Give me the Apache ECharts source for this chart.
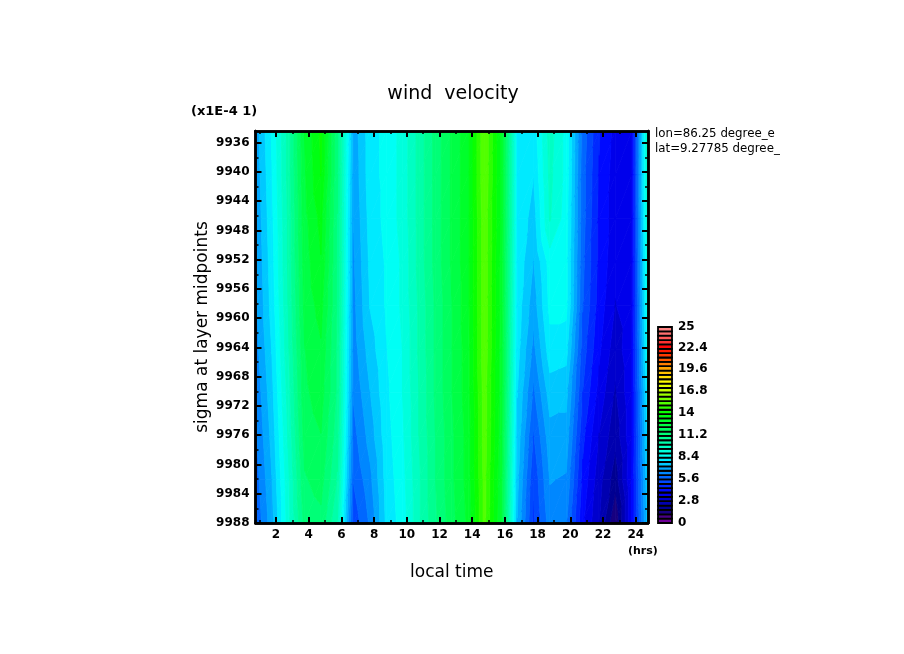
<!DOCTYPE html>
<html>
<head>
<meta charset="utf-8">
<style>html,body{margin:0;padding:0;background:#fff}#main{width:904px;height:654px}</style>
<script src="https://cdn.jsdelivr.net/npm/echarts@6/dist/echarts.min.js"></script>
</head>
<body>
<div id="main"></div>
<script>
// local time of each column
const hours = [0.75,1.75,2.75,3.75,4.75,5.75,6.75,7.75,8.75,9.75,10.75,11.75,12.75,13.75,14.75,15.75,16.75,17.75,18.75,19.75,20.75,21.75,22.75,23.75,24.75];
// sigma level (x1E-4) of each row, top to bottom
const sigmaLevels = [9934.4,9940.4,9946.4,9952.3,9958.3,9964.3,9970.2,9976.2,9982.1,9988];
// wind velocity per level
const wind0 = [6.9,8.4,10.2,12.8,14.0,11.2,6.9,8.1,8.5,9.1,10.2,11.3,12.3,13.2,15.5,13.3,8.3,8.0,9.7,8.7,5.9,4.5,3.7,3.7,9.8];
const wind1 = [6.8,8.3,10.2,12.7,13.9,11.2,6.8,8.1,8.5,9.1,10.2,11.3,12.3,13.2,15.5,13.3,8.3,7.8,9.6,8.7,5.8,4.4,3.6,3.7,9.7];
const wind2 = [6.7,8.2,10.1,12.6,13.5,11.1,6.7,8.0,8.5,9.1,10.2,11.3,12.3,13.2,15.4,13.3,8.3,7.5,9.5,8.6,5.8,4.3,3.6,3.7,9.5];
const wind3 = [6.6,8.1,10.1,12.5,13.3,11.1,6.6,7.9,8.4,9.0,10.2,11.3,12.3,13.2,15.4,13.2,8.2,7.2,8.6,8.5,5.7,4.3,3.5,3.7,9.2];
const wind4 = [6.5,8.0,10.0,12.4,13.0,11.1,6.5,7.8,8.4,9.0,10.1,11.2,12.2,13.2,15.4,13.2,8.1,6.9,8.5,8.5,5.6,4.2,3.3,3.7,9.0];
const wind5 = [6.4,7.8,9.9,12.2,12.7,11.0,6.4,7.5,8.3,8.9,10.1,11.2,12.2,13.1,15.4,13.1,8.0,6.5,8.1,8.0,5.3,4.0,3.0,3.8,8.7];
const wind6 = [6.2,7.6,9.7,12.1,12.5,11.0,6.2,7.2,8.2,8.9,10.0,11.2,12.2,13.1,15.3,13.1,7.8,6.0,7.5,7.4,5.0,3.7,2.7,3.8,8.3];
const wind7 = [6.0,7.4,9.5,11.9,12.2,10.8,5.9,6.9,8.1,8.8,10.0,11.1,12.1,13.0,15.3,13.0,7.6,5.5,7.0,7.0,4.6,3.3,2.4,3.8,8.0];
const wind8 = [5.8,7.2,9.3,11.6,11.9,10.5,5.6,6.5,8.0,8.7,9.9,11.1,12.1,13.0,15.2,12.9,7.4,5.1,6.7,6.6,4.3,3.0,1.9,3.9,7.7];
const wind9 = [5.6,7.0,9.2,11.3,11.5,10.0,5.2,6.2,7.9,8.6,9.9,11.0,12.0,12.9,15.2,12.8,7.2,4.9,6.4,6.2,4.0,2.8,1.1,3.9,7.5];
const windRows = [wind0,wind1,wind2,wind3,wind4,wind5,wind6,wind7,wind8,wind9];
// tick labels
const xMajorTicks = [2,4,6,8,10,12,14,16,18,20,22,24];
const xMinorTicks = [1,3,5,7,9,11,13,15,17,19,21,23];
const yMajorTicks = [9936,9940,9944,9948,9952,9956,9960,9964,9968,9972,9976,9980,9984,9988];
const yMinorTicks = [9938,9942,9946,9950,9954,9958,9962,9966,9970,9974,9978,9982,9986];
const barLabels = ['0','2.8','5.6','8.4','11.2','14','16.8','19.6','22.4','25'];
const bandCount = 45, maxValue = 25;

const xMin = 0.75, xMax = 24.75, yMin = 9934.4, yMax = 9988;
const step = maxValue / bandCount;

// rainbow colour table of the contour levels
const colorStops = [
  [0,'#8000a0'],[1,'#400080'],[1.6,'#000080'],[2.8,'#0000c0'],[4,'#0000ff'],[5.6,'#005aff'],
  [7,'#00aaff'],[8.4,'#00ffff'],[11.2,'#00ff80'],[14,'#00ff00'],[16,'#80ff00'],[16.8,'#c0ff00'],
  [18,'#ffff00'],[19.6,'#ffaa00'],[21,'#ff5000'],[22.4,'#ff0000'],[23.6,'#ff5a5a'],[25,'#ff9090']
];
function bandColor(k) {
  const v = (k + 0.5) * step;
  for (let i = 1; i < colorStops.length; i++) {
    if (v <= colorStops[i][0]) {
      const a = colorStops[i-1], b = colorStops[i];
      return echarts.color.lerp((v - a[0]) / (b[0] - a[0]), [a[1], b[1]]);
    }
  }
  return colorStops[colorStops.length-1][1];
}

// keep the part of a polygon on one side of a value level
function clipPoly(poly, level, keepAbove) {
  const out = [];
  for (let i = 0; i < poly.length; i++) {
    const p = poly[i], q = poly[(i+1) % poly.length];
    const pIn = keepAbove ? p[2] >= level : p[2] <= level;
    const qIn = keepAbove ? q[2] >= level : q[2] <= level;
    if (pIn) out.push(p);
    if (pIn !== qIn) {
      const t = (level - p[2]) / (q[2] - p[2]);
      out.push([p[0]+t*(q[0]-p[0]), p[1]+t*(q[1]-p[1]), level]);
    }
  }
  return out;
}

function triangleBands(tri, children) {
  const vals = tri.map(p => p[2]);
  const k0 = Math.floor(Math.min.apply(null, vals) / step);
  const k1 = Math.floor(Math.max.apply(null, vals) / step);
  for (let k = k0; k <= k1; k++) {
    let poly = clipPoly(tri, k * step, true);
    if (poly.length) poly = clipPoly(poly, (k + 1) * step, false);
    if (poly.length < 3) continue;
    const c = bandColor(k);
    children.push({
      type: 'polygon',
      shape: { points: poly.map(p => [p[0], p[1]]) },
      style: { fill: c, stroke: c, lineWidth: 0.8 }
    });
  }
}

const cells = [];
for (let j = 0; j < sigmaLevels.length - 1; j++) {
  for (let i = 0; i < hours.length - 1; i++) cells.push([i, j]);
}

function renderCell(params, api) {
  const i = api.value(0), j = api.value(1);
  const corner = (ci, cj) => {
    const c = api.coord([hours[ci], sigmaLevels[cj]]);
    return [c[0], c[1], windRows[cj][ci]];
  };
  const a = corner(i, j), b = corner(i+1, j), c = corner(i+1, j+1), d = corner(i, j+1);
  const children = [];
  triangleBands([a, b, d], children);
  triangleBands([b, c, d], children);
  return { type: 'group', children: children };
}

const bands = [];
for (let k = 0; k < bandCount; k++) bands.push([k]);

function renderBand(params, api) {
  const k = api.value(0);
  const p0 = api.coord([0, k * step]), p1 = api.coord([1, (k + 1) * step]);
  return {
    type: 'rect',
    shape: { x: p0[0], y: p1[1], width: p1[0] - p0[0], height: p0[1] - p1[1] },
    style: { fill: bandColor(k), stroke: '#000', lineWidth: 1.8 }
  };
}

const blackLine = { show: true, onZero: false, lineStyle: { color: '#000', width: 2.5 } };
const tickFont = { color: '#000', fontFamily: 'DejaVu Sans', fontWeight: 'bold', fontSize: 12 };

function xAxis(position, ticks, len, width, labelled) {
  return {
    type: 'value', gridIndex: 0, position: position, min: xMin, max: xMax, z: 5,
    axisLine: blackLine, splitLine: { show: false },
    axisTick: { show: true, inside: true, length: len, customValues: ticks, lineStyle: { color: '#000', width: width } },
    axisLabel: labelled ? Object.assign({ show: true, customValues: ticks, margin: 6 }, tickFont) : { show: false }
  };
}
function yAxis(position, ticks, len, width, labelled) {
  return {
    type: 'value', gridIndex: 0, position: position, min: yMin, max: yMax, inverse: true, z: 5,
    axisLine: blackLine, splitLine: { show: false },
    axisTick: { show: true, inside: true, length: len, customValues: ticks, lineStyle: { color: '#000', width: width } },
    axisLabel: labelled ? Object.assign({ show: true, customValues: ticks, margin: 6, formatter: v => String(v) }, tickFont) : { show: false }
  };
}

const xAxes = [
  xAxis('bottom', xMajorTicks, 6, 2, true),
  xAxis('bottom', xMinorTicks, 3, 1.5, false),
  xAxis('top', xMajorTicks, 6, 2, false),
  xAxis('top', xMinorTicks, 3, 1.5, false)
];
xAxes[0].name = 'local time';
xAxes[0].nameLocation = 'middle';
xAxes[0].nameGap = 41;
xAxes[0].nameTextStyle = { color: '#000', fontFamily: 'DejaVu Sans', fontSize: 17 };
xAxes.push({
  type: 'value', gridIndex: 1, min: 0, max: 1, show: false
});

const yAxes = [
  yAxis('left', yMajorTicks, 6, 2, true),
  yAxis('left', yMinorTicks, 3, 1.5, false),
  yAxis('right', yMajorTicks, 6, 2, false),
  yAxis('right', yMinorTicks, 3, 1.5, false)
];
yAxes[0].name = 'sigma at layer midpoints';
yAxes[0].nameLocation = 'middle';
yAxes[0].nameGap = 44;
yAxes[0].nameRotate = 90;
yAxes[0].nameTextStyle = { color: '#000', fontFamily: 'DejaVu Sans', fontSize: 17 };
yAxes.push({
  type: 'value', gridIndex: 1, position: 'right', min: 0, max: maxValue, z: 5,
  axisLine: { show: false }, axisTick: { show: false }, splitLine: { show: false },
  axisLabel: Object.assign({
    show: true, margin: 6,
    customValues: barLabels.map(Number),
    formatter: v => String(v)
  }, tickFont)
});

const chart = echarts.init(document.getElementById('main'), null, { renderer: 'canvas' });
chart.setOption({
  backgroundColor: '#fff',
  animation: false,
  title: {
    text: 'wind  velocity', left: 448, top: 80, textAlign: 'center',
    textStyle: { color: '#000', fontFamily: 'DejaVu Sans', fontWeight: 'normal', fontSize: 19 }
  },
  grid: [
    { left: 255.5, top: 131, width: 392.5, height: 392 },
    { left: 658, top: 327, width: 14, height: 196 }
  ],
  xAxis: xAxes,
  yAxis: yAxes,
  series: [
    {
      type: 'custom', xAxisIndex: 0, yAxisIndex: 0, data: cells, renderItem: renderCell,
      clip: true, silent: true, z: 1, encode: { x: 0, y: 1 }
    },
    {
      type: 'custom', xAxisIndex: 4, yAxisIndex: 4, data: bands, renderItem: renderBand,
      silent: true, z: 1
    }
  ],
  graphic: [
    { type: 'text', left: 191, top: 105, style: { text: '(x1E-4 1)', fill: '#000', font: 'bold 13px "DejaVu Sans"' } },
    { type: 'text', left: 655, top: 128, style: { text: 'lon=86.25 degree_e', fill: '#000', font: '11.8px "DejaVu Sans"' } },
    { type: 'text', left: 655, top: 143, style: { text: 'lat=9.27785 degree_', fill: '#000', font: '11.8px "DejaVu Sans"' } },
    { type: 'text', left: 628, top: 546, style: { text: '(hrs)', fill: '#000', font: 'bold 11px "DejaVu Sans"' } }
  ]
});
</script>
</body>
</html>
